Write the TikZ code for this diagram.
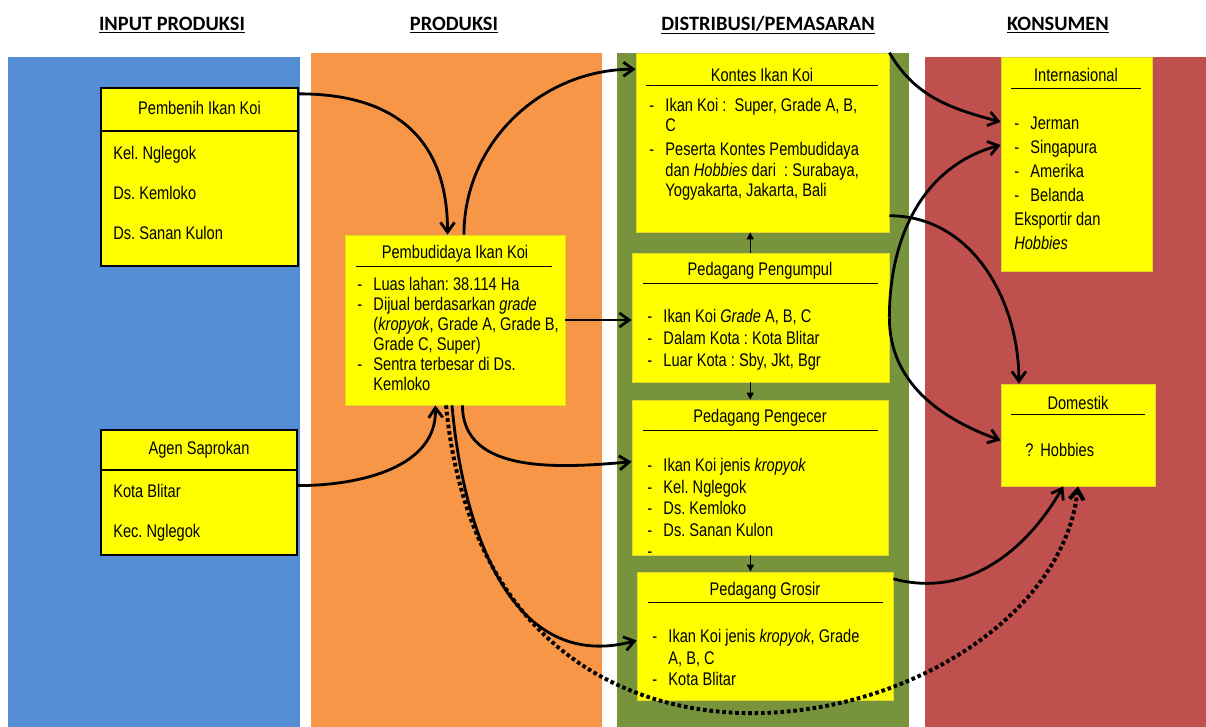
\documentclass[tikz,border=0pt]{standalone}
\usepackage{fontspec}
\setmainfont[FakeStretch=0.8]{Liberation Sans}
\newfontfamily\hdrfont{Carlito}
\usepackage{tikz}
\usetikzlibrary{arrows.meta, positioning, calc}
\definecolor{InputBlue}{RGB}{85, 142, 213}
\definecolor{ProdOrange}{RGB}{247, 150, 70}
\definecolor{DistGreen}{RGB}{119, 147, 60}
\definecolor{KonsRed}{RGB}{192, 80, 77}
\definecolor{KoiYellow}{RGB}{255, 255, 0}
\definecolor{EdgeYellow}{RGB}{225, 215, 40}
\newcommand{\dsh}{\makebox[11.5pt][l]{-}}
\newcommand{\ind}{\hspace*{11.5pt}}
\frenchspacing

\begin{document}
\begin{tikzpicture}[
  x=0.025cm, y=-0.025cm,
  box/.style={rectangle, fill=KoiYellow, draw=EdgeYellow, line width=0.5pt, inner sep=0pt},
  boxk/.style={box, draw=black, line width=0.8pt},
  ttl/.style={inner sep=0pt, font=\fontsize{13}{15}\selectfont},
  lst/.style={anchor=north west, align=left, inner sep=0pt, font=\fontsize{13}{14.8}\selectfont},
  hdr/.style={inner sep=0pt, font=\hdrfont\bfseries\fontsize{14.5}{17}\selectfont},
  rul/.style={line width=0.6pt},
  flw/.style={-{Straight Barb[length=7pt,width=10pt]}, line width=2pt},
  stp/.style={-{Triangle[length=5pt,width=5pt]}, line width=1pt},
  dtd/.style={flw, line width=2.8pt, dash pattern=on 2.6pt off 2pt}
]
  \useasboundingbox (0,0) rectangle (1206,727);
  % panels
  \fill[InputBlue]  (8,57)   rectangle (300,727);
  \fill[ProdOrange] (311,53) rectangle (602,727);
  \fill[DistGreen]  (617,53) rectangle (909,727);
  \fill[KonsRed]    (925,57) rectangle (1206,727);

  \node[hdr] (h1) at (172,25)  {\underline{INPUT PRODUKSI}};
  \node[hdr] (h2) at (454,25)  {\underline{PRODUKSI}};
  \node[hdr] (h3) at (768,25)  {\underline{DISTRIBUSI/PEMASARAN}};
  \node[hdr] (h4) at (1058,25) {\underline{KONSUMEN}};

  % input produksi
  \node[boxk, minimum width=4.925cm, minimum height=4.45cm] (pbh) at (199.5,177) {};
  \node[ttl] (pbht) at (199.5,108) {Pembenih Ikan Koi};
  \draw[line width=0.8pt] (101,131) -- (298,131);
  \node[lst, font=\fontsize{13}{28.5}\selectfont] (pbhl) at (113,146)
    {Kel. Nglegok\\Ds. Kemloko\\Ds. Sanan Kulon};

  \node[boxk, minimum width=4.9cm, minimum height=3.125cm] (agn) at (199,492.5) {};
  \node[ttl] (agnt) at (199,450) {Agen Saprokan};
  \draw[line width=0.8pt] (101,470) -- (297,470);
  \node[lst, font=\fontsize{13}{28.5}\selectfont] (agnl) at (113,484)
    {Kota Blitar\\Kec. Nglegok};

  % produksi
  \node[box, minimum width=5.5cm, minimum height=4.25cm] (pbd) at (455,320) {};
  \node[ttl] (pbdt) at (455,254) {Pembudidaya Ikan Koi};
  \draw[rul] (356,266) -- (552,266);
  \node[lst, font=\fontsize{13}{14.2}\selectfont] (pbdl) at (357,277)
    {\dsh Luas lahan: 38.114 Ha\\
     \dsh Dijual berdasarkan \textit{grade}\\
     \ind (\textit{kropyok}, Grade A, Grade B,\\
     \ind Grade C, Super)\\
     \dsh Sentra terbesar di Ds.\\
     \ind Kemloko};

  % distribusi
  \node[box, minimum width=6.325cm, minimum height=4.475cm] (knt) at (762.5,142.5) {};
  \node[ttl] (kntt) at (762,75) {Kontes Ikan Koi};
  \draw[rul] (646,85) -- (878,85);
  \node[lst, font=\fontsize{13}{14.5}\selectfont] (kntl) at (649,98)
    {\dsh Ikan Koi :\ \ Super, Grade A, B,\\
     \ind C\\[2.5pt]
     \dsh Peserta Kontes Pembudidaya\\
     \ind dan \textit{Hobbies} dari\ \ : Surabaya,\\
     \ind Yogyakarta, Jakarta, Bali};

  \node[box, minimum width=6.425cm, minimum height=3.225cm] (pgp) at (760.5,317.5) {};
  \node[ttl] (pgpt) at (760,271) {Pedagang Pengumpul};
  \draw[rul] (643,283) -- (878,283);
  \node[lst, font=\fontsize{13}{15.6}\selectfont] (pgpl) at (647,309)
    {\dsh Ikan Koi \textit{Grade} A, B, C\\
     \dsh Dalam Kota : Kota Blitar\\
     \dsh Luar Kota : Sby, Jkt, Bgr};

  \node[box, minimum width=6.4cm, minimum height=3.875cm] (pgc) at (760,477.5) {};
  \node[ttl] (pgct) at (760,418) {Pedagang Pengecer};
  \draw[rul] (643,430) -- (878,430);
  \node[lst, font=\fontsize{13}{15.3}\selectfont] (pgcl) at (647,458)
    {\dsh Ikan Koi jenis \textit{kropyok}\\
     \dsh Kel. Nglegok\\
     \dsh Ds. Kemloko\\
     \dsh Ds. Sanan Kulon\\
     \dsh};

  \node[box, minimum width=6.4cm, minimum height=3.2cm] (grs) at (765,636) {};
  \node[ttl] (grst) at (765,591) {Pedagang Grosir};
  \draw[rul] (648,602) -- (883,602);
  \node[lst, font=\fontsize{13}{15.3}\selectfont] (grsl) at (652,629)
    {\dsh Ikan Koi jenis \textit{kropyok}, Grade\\
     \ind A, B, C\\
     \dsh Kota Blitar};

  % konsumen
  \node[box, minimum width=3.775cm, minimum height=5.35cm] (int) at (1076.5,164) {};
  \node[ttl] (intt) at (1076,75) {Internasional};
  \draw[rul] (1011,88) -- (1141,88);
  \node[lst, font=\fontsize{13}{17}\selectfont] (intl) at (1014,117)
    {\dsh Jerman\\
     \dsh Singapura\\
     \dsh Amerika\\
     \dsh Belanda\\
     Eksportir dan\\
     \textit{Hobbies}};

  \node[box, minimum width=3.85cm, minimum height=2.55cm] (dom) at (1078,435) {};
  \node[ttl] (domt) at (1078,403) {Domestik};
  \draw[rul] (1011,414) -- (1145,414);
  \node[lst] (doml) at (1025,443) {?\hspace{5pt}Hobbies};

  % alur
  \draw[flw] (pbh.40) to[out=0, in=90, looseness=1.2] (pbd.95);
  \draw[flw] (agn.4) to[out=0, in=-88] (pbd.257);
  \draw[flw] (pbd.84) to[out=90, in=180] (knt.150);
  \draw[flw] (pbd.east) -- (pbd.east -| pgp.west);
  \draw[flw] (pbd.275) to[out=-90, in=185] (pgc.173);
  \draw[flw] (pbd.268) to[out=-85, in=195, looseness=1.1] (grs.182);
  \draw[dtd] (pbd.264) .. controls +(45,465) and +(-27,245) .. (dom.south);

  \draw[stp] (pgp.99) -- (pgp.99 |- knt.south);
  \draw[stp] (pgp.261) -- (pgp.261 |- pgc.north);
  \draw[stp] (pgc.263) -- (pgc.263 |- grs.north);

  \draw[flw] (knt.north east) to[out=-60, in=165] (int.151);
  \draw[flw] (pgp.east) to[out=90, in=195] (int.166);
  \draw[flw] (knt.-30) to[out=0, in=90] (dom.139);
  \draw[flw] (pgp.east) to[out=-90, in=160] (dom.184);
  \draw[flw] (grs.24) to[out=-15, in=-120] (dom.254);
\end{tikzpicture}
\end{document}
